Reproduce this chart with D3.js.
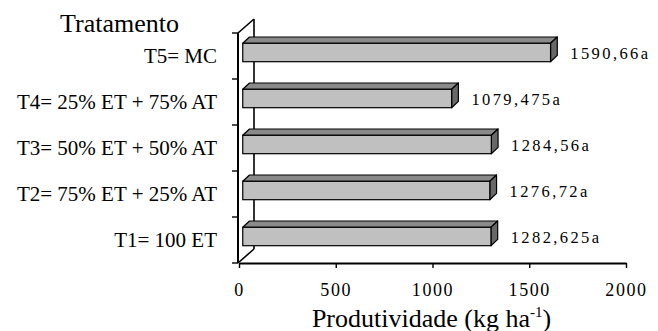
<!DOCTYPE html>
<html>
<head>
<meta charset="utf-8">
<script src="https://cdn.jsdelivr.net/npm/d3@7"></script>
<style>
  html, body { margin: 0; padding: 0; background: #fff; }
  svg { display: block; }
</style>
</head>
<body>
<svg id="chart" width="658" height="331"></svg>
<script>
// Treatments, listed top to bottom
const categories = [
  "T5= MC",
  "T4= 25% ET + 75% AT",
  "T3= 50% ET + 50% AT",
  "T2= 75% ET + 25% AT",
  "T1= 100 ET"
];
// Yield (kg ha-1) per treatment
const values = [1590.66, 1079.475, 1284.56, 1276.72, 1282.625];
// Mean comparison letters
const letters = ["a", "a", "a", "a", "a"];
// Value axis ticks
const tickValues = [0, 500, 1000, 1500, 2000];

const FONT = '"Liberation Serif", Tinos, "Times New Roman", serif';
const svg = d3.select("#chart");

// Front plane of the 3-D plot box
const x = d3.scaleLinear().domain([0, 2000]).range([239, 626]);
const y = d3.scaleBand().domain(categories).range([33, 263]).padding(0);

// Depth vector of the box and the depth slice occupied by bars
const depth = { dx: 15, dy: -14 };
const barFront = 0.25, barBack = 0.7;
const barFrac = 0.4;

const x0 = x(0), yTop = y.range()[0], yBot = y.range()[1];

// Side wall outline (back edge and diagonals)
const wall = svg.append("g").attr("fill", "none").attr("stroke", "#000");
wall.append("line")
  .attr("x1", x0 + depth.dx).attr("y1", yTop + depth.dy)
  .attr("x2", x0 + depth.dx).attr("y2", yBot + depth.dy)
  .attr("stroke-width", 1.6);
wall.append("line")
  .attr("x1", x0 - 1).attr("y1", yTop)
  .attr("x2", x0 + depth.dx).attr("y2", yTop + depth.dy)
  .attr("stroke-width", 1.6);
wall.append("line")
  .attr("x1", x0 - 1).attr("y1", yBot)
  .attr("x2", x0 + depth.dx).attr("y2", yBot + depth.dy)
  .attr("stroke-width", 1.6);

// 3-D bars
const data = categories.map((c, i) => ({ c, v: values[i], l: letters[i] }));
const bh = y.bandwidth() * barFrac;
const fdx = depth.dx * barFront, fdy = depth.dy * barFront;
const bdx = depth.dx * (barBack - barFront), bdy = depth.dy * (barBack - barFront);

const bars = svg.append("g").selectAll("g").data(data).join("g");
bars.each(function (d) {
  const g = d3.select(this);
  const xl = x(0) + fdx, xr = x(d.v) + fdx;
  const yt = y(d.c) + y.bandwidth() / 2 - bh / 2 + fdy, yb = yt + bh;
  // top face
  g.append("path")
    .attr("d", `M${xl},${yt}L${xl + bdx},${yt + bdy}L${xr + bdx},${yt + bdy}L${xr},${yt}Z`)
    .attr("fill", "#8a8a8a").attr("stroke", "#000").attr("stroke-width", 1.2)
    .attr("stroke-linejoin", "round");
  // end face
  g.append("path")
    .attr("d", `M${xr},${yt}L${xr + bdx},${yt + bdy}L${xr + bdx},${yb + bdy}L${xr},${yb}Z`)
    .attr("fill", "#686868").attr("stroke", "#000").attr("stroke-width", 1.2)
    .attr("stroke-linejoin", "round");
  // front face
  g.append("rect")
    .attr("x", xl).attr("y", yt).attr("width", xr - xl).attr("height", bh)
    .attr("fill", "#c0c0c0").attr("stroke", "#000").attr("stroke-width", 1.2);
  // value label
  g.append("text")
    .attr("x", xr + bdx + 13)
    .attr("y", yt + bh / 2 + 6)
    .style("font-family", FONT)
    .style("font-size", "16.5px")
    .style("letter-spacing", "2.4px")
    .text(String(d.v).replace(".", ",") + d.l);
});

// Category axis on the front plane
const yAxis = svg.append("g")
  .attr("transform", `translate(${x0 - 1},0)`)
  .call(d3.axisLeft(y).tickSize(0).tickFormat(""));
yAxis.select(".domain").attr("stroke", "#000").attr("stroke-width", 2)
  .attr("d", `M0,${yTop}V${yBot}`);
// separators between categories
yAxis.selectAll(".sep")
  .data(d3.range(categories.length + 1))
  .join("line")
  .attr("class", "sep")
  .attr("x1", -6).attr("x2", 0)
  .attr("y1", i => yTop + i * y.step())
  .attr("y2", i => yTop + i * y.step())
  .attr("stroke", "#000").attr("stroke-width", 1.4);

svg.append("g").selectAll("text").data(categories).join("text")
  .attr("x", 217)
  .attr("y", d => y(d) + y.bandwidth() / 2 + 7)
  .attr("text-anchor", "end")
  .style("font-family", FONT)
  .style("font-size", "21px")
  .text(d => d);

// Value axis
const xAxis = svg.append("g")
  .attr("transform", `translate(0,${yBot})`)
  .call(d3.axisBottom(x).tickValues(tickValues).tickSize(5).tickSizeOuter(0).tickFormat(d3.format("d")));
xAxis.select(".domain").attr("stroke", "#000").attr("stroke-width", 2);
xAxis.selectAll(".tick line").attr("stroke", "#000").attr("stroke-width", 1.4);
xAxis.selectAll(".tick text")
  .style("font-family", FONT)
  .style("font-size", "18px")
  .style("letter-spacing", "1.6px")
  .attr("dy", null)
  .attr("y", 33)
  .attr("fill", "#000");

// Titles
svg.append("text")
  .attr("x", 60).attr("y", 31.5)
  .style("font-family", FONT)
  .style("font-size", "26px")
  .text("Tratamento");

const xt = svg.append("text")
  .attr("x", (x(0) + x(2000)) / 2 - 1).attr("y", 326.5)
  .attr("text-anchor", "middle")
  .style("font-family", FONT)
  .style("font-size", "26px");
xt.append("tspan").text("Produtividade (kg ha");
xt.append("tspan").style("font-size", "15px").attr("dy", -10).text("-1");
xt.append("tspan").attr("dy", 10).text(")");
</script>
</body>
</html>
